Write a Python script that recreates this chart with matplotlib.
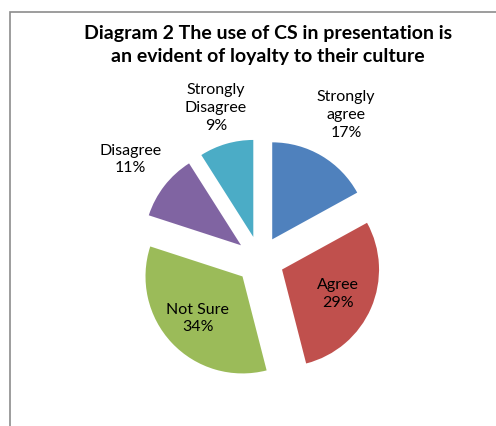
import numpy as np
import matplotlib.pyplot as plt
from matplotlib.patches import Rectangle

# data
categories = ["Strongly\nagree", "Agree", "Not Sure", "Disagree", "Strongly\nDisagree"]
values = [17, 29, 34, 11, 9]
colors = ["#4F81BD", "#C0504D", "#9BBB59", "#8064A2", "#4BACC6"]
label_dist = [1.74, 0.88, 0.88, 1.69, 1.63]

W, H = 496, 426
fig = plt.figure(figsize=(W / 100, H / 100), dpi=100, facecolor="white")
ax = fig.add_axes([0, 0, 1, 1])

cx, cy, r = 260, H - 260, 97
# explode is in data units here (radius is not 1)
wedges, _ = ax.pie(values, colors=colors, startangle=90, counterclock=False,
                   explode=[24] * len(values), radius=r, center=(cx, cy),
                   wedgeprops=dict(linewidth=0))

# labels at slice mid-angle
for w, cat, v, d in zip(wedges, categories, values, label_dist):
    mid = np.deg2rad((w.theta1 + w.theta2) / 2)
    x = cx + d * r * np.cos(mid)
    y = cy + d * r * np.sin(mid)
    ax.text(x, y, f"{cat}\n{v}%", ha="center", va="center", fontsize=11.5,
            family="Lato", linespacing=1.35, color="#000000")

ax.text(268, H - 45, "Diagram 2 The use of CS in presentation is\nan evident of loyalty to their culture",
        ha="center", va="center", fontsize=14, fontweight="bold", family="Lato",
        linespacing=1.4)

# chart frame
ax.add_patch(Rectangle((10, -20), 520, H - 12 + 20, fill=False, edgecolor="#8c8c8c",
                       linewidth=1.2))

ax.set_xlim(0, W)
ax.set_ylim(0, H)
ax.set_aspect("equal")
ax.axis("off")

plt.savefig("out.png", dpi=100)
